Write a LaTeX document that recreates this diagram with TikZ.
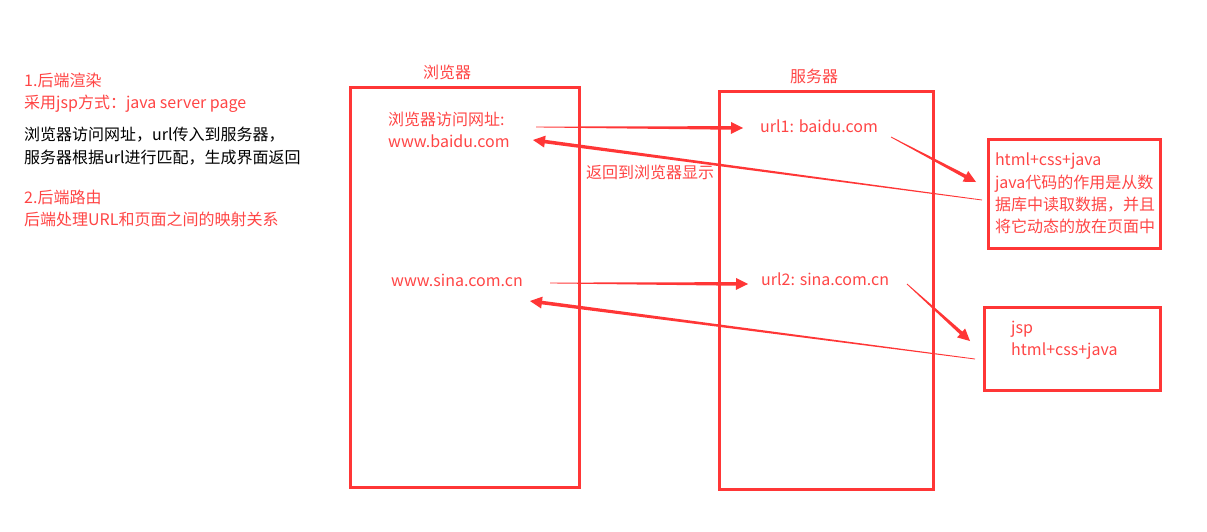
\documentclass[tikz,border=0pt]{standalone}
\usepackage{fontspec}
\setmainfont{Noto Sans CJK SC}
\usetikzlibrary{arrows.meta, positioning, calc}
\definecolor{linered}{HTML}{FF3636}
\definecolor{textred}{HTML}{FF4545}

% tapered arrow: thin at #1, thick with head at #2
\newcommand\taper[2]{%
  \coordinate (tp) at ($(#2)!12pt!(#1)$);
  \fill[linered] ($(#1)!0.4pt!90:(#2)$) -- ($(tp)!1.8pt!90:(#2)$)
    -- ($(tp)!6pt!90:(#2)$) -- (#2) -- ($(tp)!6pt!-90:(#2)$)
    -- ($(tp)!1.8pt!-90:(#2)$) -- ($(#1)!0.4pt!-90:(#2)$) -- cycle;
}

\begin{document}
\begin{tikzpicture}[x=1pt, y=-1pt,
  frame/.style={draw=linered, line width=3pt, inner sep=0pt},
  redtxt/.style={text=textred, font=\fontsize{16}{19}\selectfont, inner sep=0pt, anchor=west},
  blacktxt/.style={redtxt, text=black}]
  \useasboundingbox (0,0) rectangle (1207,531);

  % notes on the left
  \node[redtxt] (n1) at (24,80) {1.后端渲染};
  \node[redtxt] (n2) at (24,104) {采用jsp方式：java server page};
  \node[blacktxt] (n3) at (24,135) {浏览器访问网址，url传入到服务器，};
  \node[blacktxt] (n4) at (24,158) {服务器根据url进行匹配，生成界面返回};
  \node[redtxt] (n5) at (24,197) {2.后端路由};
  \node[redtxt] (n6) at (24,219) {后端处理URL和页面之间的映射关系};

  % browser and server
  \node[frame, minimum width=229, minimum height=400] (browser) at (464.5,287) {};
  \node[frame, minimum width=214, minimum height=398] (server) at (826,290) {};
  \node[redtxt, anchor=center] (browserlbl) at (447,72) {浏览器};
  \node[redtxt, anchor=center] (serverlbl) at (814,76) {服务器};

  \node[redtxt] (visit) at (388,119) {浏览器访问网址:};
  \node[redtxt] (baidu) at (388,141) {www.baidu.com};
  \node[redtxt] (sina) at (391,280) {www.sina.com.cn};
  \node[redtxt] (url1) at (760,126) {url1: baidu.com};
  \node[redtxt] (url2) at (761,279) {url2: sina.com.cn};
  \node[redtxt] (back) at (586,172) {返回到浏览器显示};

  % pages on the right
  \node[frame, redtxt, anchor=center, minimum width=172, minimum height=109,
        text width=158, inner xsep=7pt, align=left,
        font=\fontsize{16}{22.3}\selectfont] (page1) at (1074,193.5)
    {html+css+java\\java代码的作用是从数\\据库中读取数据，并且\\将它动态的放在页面中};
  \node[frame, minimum width=176, minimum height=83] (page2) at (1072,348.5) {};
  \node[redtxt, align=left, anchor=north west,
        font=\fontsize{16}{22}\selectfont] (page2txt) at (1011,321) {jsp\\html+css+java};

  % connectors
  \coordinate (a1s) at (536,127);  \coordinate (a1e) at (743,128);
  \coordinate (r1s) at (982,200);  \coordinate (r1e) at (533,140);
  \coordinate (d1s) at (891,137);  \coordinate (d1e) at (976,182);
  \coordinate (a2s) at (550,283);  \coordinate (a2e) at (748,284);
  \coordinate (d2s) at (907,284);  \coordinate (d2e) at (970,341);
  \coordinate (r2s) at (975,359);  \coordinate (r2e) at (530,301);
  \taper{a1s}{a1e}
  \taper{r1s}{r1e}
  \taper{d1s}{d1e}
  \taper{a2s}{a2e}
  \taper{d2s}{d2e}
  \taper{r2s}{r2e}
\end{tikzpicture}
\end{document}
